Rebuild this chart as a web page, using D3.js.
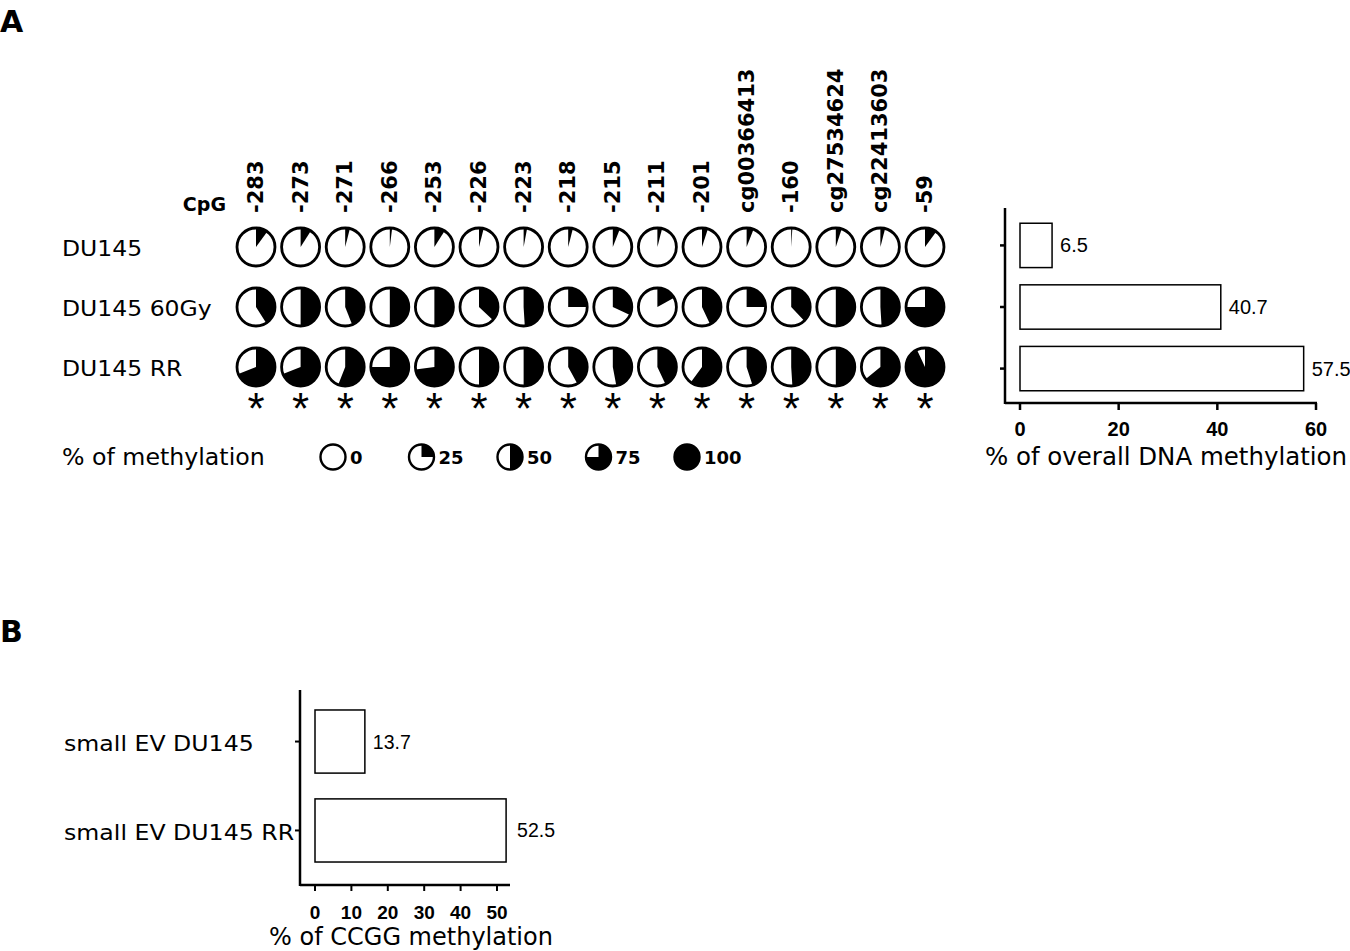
<!DOCTYPE html>
<html><head><meta charset="utf-8">
<script src="https://cdn.jsdelivr.net/npm/d3@7"></script>
<style>body{margin:0;background:#fff}svg{display:block}</style>
</head><body>
<script>
// ---- data ----
const cpgLabels = ["-283","-273","-271","-266","-253","-226","-223","-218","-215","-211","-201","cg00366413","-160","cg27534624","cg22413603","-59"];
const rowLabels = ["DU145","DU145 60Gy","DU145 RR"];
const du145 =      [10, 9, 4, 2, 9, 4, 3, 4, 6, 4, 5, 6, 1, 5, 4, 10];
const du145_60Gy = [41, 50, 44, 50, 50, 37, 49, 25, 32, 17, 43, 25, 38, 50, 49, 75];
const du145RR =    [69, 69, 56, 75, 73, 50, 50, 42, 47, 43, 60, 45, 49, 50, 64, 93];
const significant = [1,1,1,1,1,1,1,1,1,1,1,1,1,1,1,1];
const legendValues = [0, 25, 50, 75, 100];
const overallCategories = ["DU145","DU145 60Gy","DU145 RR"];
const overallValues = [6.5, 40.7, 57.5];
const overallTicks = [0, 20, 40, 60];
const ccggCategories = ["small EV DU145","small EV DU145 RR"];
const ccggValues = [13.7, 52.5];
const ccggTicks = [0, 10, 20, 30, 40, 50];

const W = 1350, H = 951;
const svg = d3.select("body").append("svg").attr("width", W).attr("height", H);
const sans = "'DejaVu Sans', Verdana, sans-serif";
const arial = "'Liberation Sans', Arial, sans-serif";

// Verdana-like label, optionally slightly widened
function wideText(x, y, txt, size, sx, anchor) {
  return svg.append("text")
    .attr("transform", `translate(${x},${y}) scale(${sx},1)`)
    .attr("text-anchor", anchor || "start")
    .text(txt)
    .style("font-family", sans).style("font-size", size + "px");
}

// panel letters
svg.append("text").attr("x", 0).attr("y", 32).text("A")
  .style("font-family", sans).style("font-weight", "bold").style("font-size", "30px");
svg.append("text").attr("x", 0).attr("y", 642).text("B")
  .style("font-family", sans).style("font-weight", "bold").style("font-size", "30px");

// ---- pie matrix ----
const xCol = d3.scalePoint().domain(cpgLabels).range([256, 925]);
const yRow = d3.scalePoint().domain(rowLabels).range([247, 367]);
const R = 19;
const pie = d3.pie().sort(null).value(d => d);

svg.append("text").attr("x", 226).attr("y", 211).attr("text-anchor", "end").text("CpG")
  .style("font-family", sans).style("font-weight", "bold").style("font-size", "19px");

svg.selectAll("text.col").data(cpgLabels).enter().append("text")
  .attr("class", "col")
  .attr("transform", d => `translate(${xCol(d) + 7},213) rotate(-90)`)
  .text(d => d)
  .style("font-family", sans).style("font-weight", "bold").style("font-size", "21px");

rowLabels.forEach(d => wideText(62, yRow(d) + 9, d, 21, 1.12));

function drawPie(g, v, r, sw) {
  const arcs = pie([v, 100 - v]);
  const a = d3.arc().innerRadius(0).outerRadius(r);
  g.append("circle").attr("r", r).attr("fill", "#fff");
  if (v > 0) g.append("path").attr("d", a(arcs[0])).attr("fill", "#000");
  g.append("circle").attr("r", r).attr("fill", "none").attr("stroke", "#000").attr("stroke-width", sw);
}

const matrix = [du145, du145_60Gy, du145RR];
matrix.forEach((vals, i) => {
  vals.forEach((v, j) => {
    const g = svg.append("g").attr("transform", `translate(${xCol(cpgLabels[j])},${yRow(rowLabels[i])})`);
    drawPie(g, v, R, 2.8);
  });
});

// stars
svg.selectAll("text.star").data(cpgLabels.filter((d, i) => significant[i])).enter().append("text")
  .attr("class", "star")
  .attr("x", d => xCol(d)).attr("y", 424).attr("text-anchor", "middle")
  .text("*")
  .style("font-family", arial).style("font-size", "44px");

// legend
wideText(62, 465, "% of methylation", 23, 1.03);
const xLeg = d3.scalePoint().domain(legendValues).range([333, 687]);
legendValues.forEach(v => {
  const g = svg.append("g").attr("transform", `translate(${xLeg(v)},457)`);
  drawPie(g, v, 12.5, 2.4);
  svg.append("text").attr("x", xLeg(v) + 17).attr("y", 464).text(v)
    .style("font-family", sans).style("font-weight", "bold").style("font-size", "18px");
});

// ---- bar chart A ----
{
  const x = d3.scaleLinear().domain([0, 60]).range([1020, 1316]);
  const y = d3.scaleBand().domain(overallCategories).range([214, 400]).paddingInner(0.28).paddingOuter(0.15);
  const axisY = 403, axisX = 1005;
  svg.append("line").attr("x1", axisX).attr("x2", axisX).attr("y1", 208).attr("y2", axisY + 1)
    .attr("stroke", "#000").attr("stroke-width", 2.5);
  svg.append("line").attr("x1", axisX).attr("x2", x(60) + 1).attr("y1", axisY).attr("y2", axisY)
    .attr("stroke", "#000").attr("stroke-width", 2.5);
  overallTicks.forEach(t => {
    svg.append("line").attr("x1", x(t)).attr("x2", x(t)).attr("y1", axisY).attr("y2", axisY + 7)
      .attr("stroke", "#000").attr("stroke-width", 2.5);
    svg.append("text").attr("x", x(t)).attr("y", 436).attr("text-anchor", "middle").text(t)
      .style("font-family", arial).style("font-weight", "bold").style("font-size", "20px");
  });
  overallCategories.forEach((c, i) => {
    const yc = y(c) + y.bandwidth() / 2;
    svg.append("line").attr("x1", axisX - 5).attr("x2", axisX).attr("y1", yc).attr("y2", yc)
      .attr("stroke", "#000").attr("stroke-width", 2.5);
    svg.append("rect").attr("x", x(0)).attr("y", y(c)).attr("width", x(overallValues[i]) - x(0))
      .attr("height", y.bandwidth()).attr("fill", "#fff").attr("stroke", "#000").attr("stroke-width", 1.5);
    svg.append("text").attr("x", x(overallValues[i]) + 8).attr("y", yc + 7).text(overallValues[i])
      .style("font-family", arial).style("font-size", "20px");
  });
  wideText(1166, 465, "% of overall DNA methylation", 24, 1.02, "middle");
}

// ---- bar chart B ----
{
  const x = d3.scaleLinear().domain([0, 50]).range([315, 497]);
  const y = d3.scaleBand().domain(ccggCategories).range([697, 875]).paddingInner(0.29).paddingOuter(0.146);
  const axisY = 885, axisX = 300;
  svg.append("line").attr("x1", axisX).attr("x2", axisX).attr("y1", 690).attr("y2", axisY + 1)
    .attr("stroke", "#000").attr("stroke-width", 2.5);
  svg.append("line").attr("x1", axisX).attr("x2", 510).attr("y1", axisY).attr("y2", axisY)
    .attr("stroke", "#000").attr("stroke-width", 2.5);
  ccggTicks.forEach(t => {
    svg.append("line").attr("x1", x(t)).attr("x2", x(t)).attr("y1", axisY).attr("y2", axisY + 6)
      .attr("stroke", "#000").attr("stroke-width", 2);
    svg.append("text").attr("x", x(t)).attr("y", 919).attr("text-anchor", "middle").text(t)
      .style("font-family", arial).style("font-weight", "bold").style("font-size", "19px");
  });
  ccggCategories.forEach((c, i) => {
    const yc = y(c) + y.bandwidth() / 2;
    svg.append("line").attr("x1", axisX - 5).attr("x2", axisX).attr("y1", yc).attr("y2", yc)
      .attr("stroke", "#000").attr("stroke-width", 2);
    svg.append("rect").attr("x", x(0)).attr("y", y(c)).attr("width", x(ccggValues[i]) - x(0))
      .attr("height", y.bandwidth()).attr("fill", "#fff").attr("stroke", "#000").attr("stroke-width", 1.5);
    svg.append("text").attr("x", x(ccggValues[i]) + (i === 1 ? 11 : 8)).attr("y", yc + 7).text(ccggValues[i])
      .style("font-family", arial).style("font-size", "19.5px");
    wideText(64, yc + 9.5, c, 22, 1.075);
  });
  wideText(411, 945, "% of CCGG methylation", 24, 1.0, "middle");
}
</script>
</body></html>
